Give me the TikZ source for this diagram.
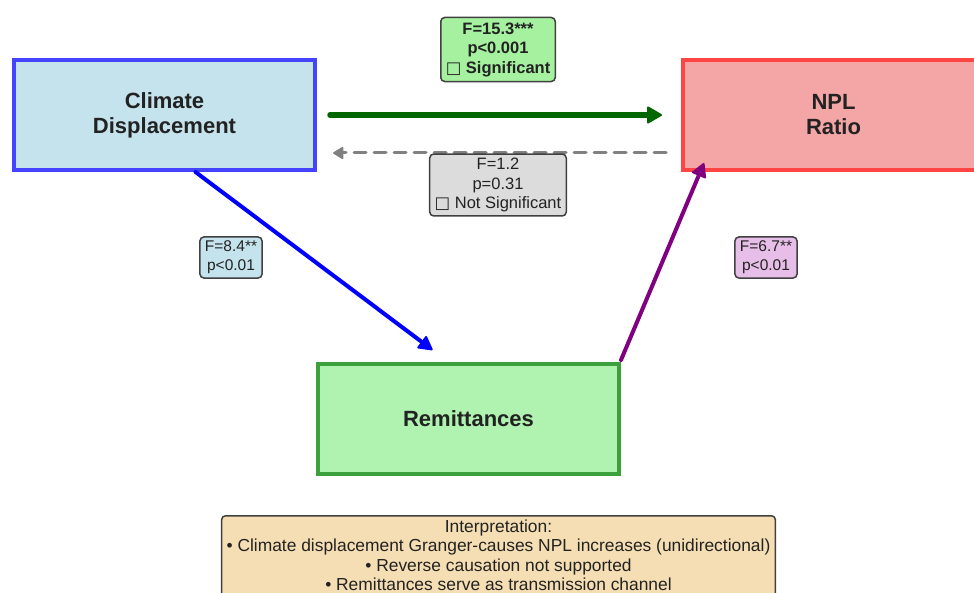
\documentclass[tikz,border=0pt]{standalone}
\usepackage{fontspec}
\setmainfont{Liberation Sans}
\newfontfamily\symfont{DejaVu Sans}
\usepackage{xcolor}
\usetikzlibrary{shapes,arrows.meta}
\usetikzlibrary{positioning}
\definecolor{climfill}{RGB}{197,227,236}
\definecolor{climdraw}{RGB}{68,68,255}
\definecolor{nplfill}{RGB}{244,166,166}
\definecolor{npldraw}{RGB}{255,68,68}
\definecolor{remfill}{RGB}{176,242,176}
\definecolor{remdraw}{RGB}{60,160,60}
\definecolor{sigfill}{RGB}{166,241,160}
\definecolor{nsigfill}{RGB}{220,220,220}
\definecolor{plumfill}{RGB}{231,190,231}
\definecolor{wheatfill}{RGB}{245,222,179}
\definecolor{purpleline}{RGB}{128,0,128}
\definecolor{txt}{RGB}{34,34,34}
\tikzstyle{var} = [rectangle, draw, line width=4pt, minimum width=301pt,
    minimum height=110pt, align=center, text=txt,
    font=\fontsize{22}{25}\selectfont\bfseries]
\tikzstyle{stat} = [rectangle, draw=black!75, line width=1.5pt,
    rounded corners=4pt, align=center, inner xsep=5pt, inner ysep=4pt, text=txt]
\tikzstyle{line} = [draw, line cap=round,
    -{Triangle[length=15pt, width=16pt, line width=2pt, round]}]

\begin{document}
\begin{tikzpicture}[x=1pt, y=-1pt]
  \useasboundingbox (0,0) rectangle (974,593);
  \clip (0,0) rectangle (974,593);
  % Place nodes
  \node [var, fill=climfill, draw=climdraw] (clim) at (164.5,115) {Climate\\Displacement};
  \node [var, fill=nplfill, draw=npldraw] (npl) at (833.5,115) {NPL\\Ratio};
  \node [var, fill=remfill, draw=remdraw] (remit) at (468.5,419) {Remittances};
  % Draw edges
  \path[line, line width=5.5pt, green!40!black,
    -{Triangle[length=16pt, width=18pt, line width=2pt, round]},
    shorten <=13pt, shorten >=19pt]
    (clim.east) -- (npl.west);
  \path[line, line width=3pt, gray, dash pattern=on 12pt off 8pt,
    -{Triangle[length=11pt, width=13pt, line width=1.5pt, round]},
    shorten <=15pt, shorten >=16pt]
    ([yshift=-38pt]npl.west) -- ([yshift=-38pt]clim.east);
  \path[line, line width=4pt, blue]
    ([xshift=31pt]clim.south) -- ([xshift=-36pt,yshift=12pt]remit.north);
  \path[line, line width=4pt, purpleline]
    ([yshift=2pt]remit.north east) -- ([xshift=23pt,yshift=9pt]npl.south west);
  % Statistics
  \node [stat, fill=sigfill, inner ysep=5pt,
    font=\fontsize{16.5}{19.5}\selectfont\bfseries]
    (sig) at (498,49.5) {F=15.3***\\p<0.001\\{\symfont\mdseries □} Significant};
  \node [stat, fill=nsigfill, font=\fontsize{16.5}{19.5}\selectfont]
    (nsig) at (498,185) {F=1.2\\p=0.31\\{\symfont □} Not Significant};
  \node [stat, fill=climfill, font=\fontsize{15.5}{19}\selectfont]
    (fdr) at (231,257.5) {F=8.4**\\p<0.01};
  \node [stat, fill=plumfill, font=\fontsize{15.5}{19}\selectfont]
    (fnpl) at (766,257.5) {F=6.7**\\p<0.01};
  % Interpretation
  \node [stat, fill=wheatfill, anchor=north, minimum width=553pt,
    minimum height=100pt, text depth=30pt, inner ysep=4pt,
    font=\fontsize{17.4}{19.5}\selectfont] (interp) at (498.5,515)
    {Interpretation:\\
     • Climate displacement Granger-causes NPL increases (unidirectional)\\
     • Reverse causation not supported\\
     • Remittances serve as transmission channel};
\end{tikzpicture}
\end{document}
